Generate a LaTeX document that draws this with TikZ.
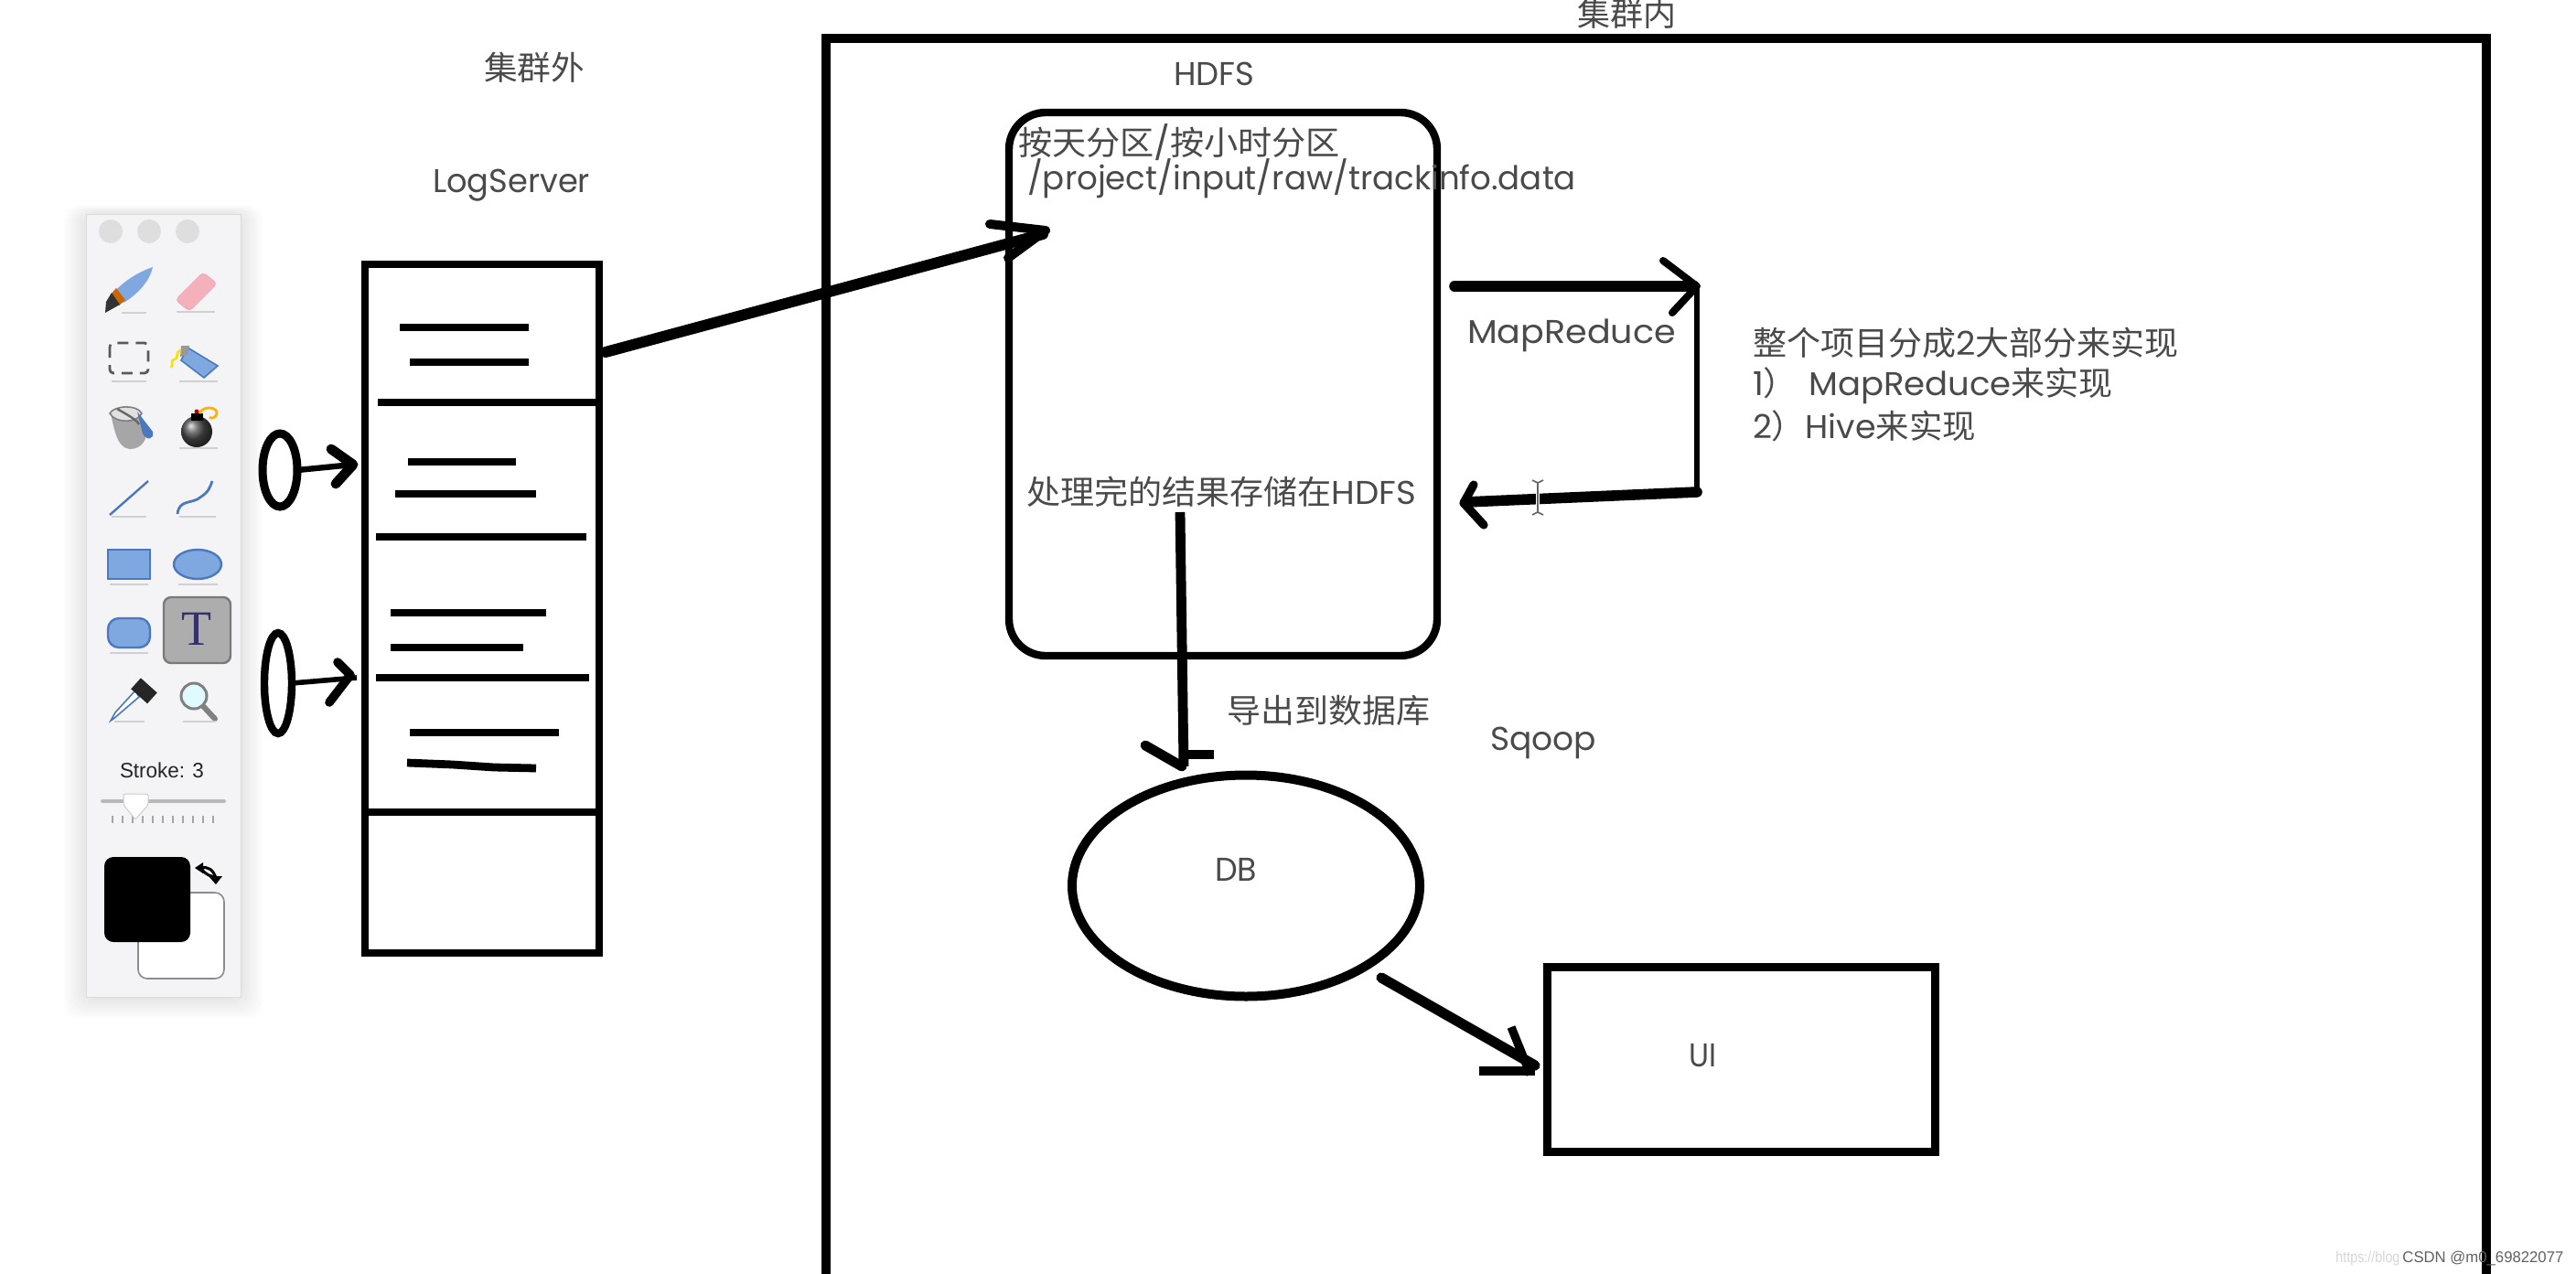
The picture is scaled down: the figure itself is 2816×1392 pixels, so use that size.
\documentclass[tikz,border=0pt]{standalone}
\usepackage{fontspec}
\usepackage{graphicx}
\setmainfont{Poppins}
\newfontfamily\cjk{Noto Sans CJK SC}
\newfontfamily\uif{Liberation Sans}
\newfontfamily\tfont{Liberation Serif}
\usetikzlibrary{shapes.geometric,arrows.meta}
\definecolor{txt}{HTML}{4A4A4A}
\definecolor{ublue}{HTML}{7FA8E0}
\definecolor{ublued}{HTML}{4C78BE}
\definecolor{ushadow}{HTML}{D0D0D2}
\definecolor{upanel}{HTML}{F4F4F7}
\newcommand\tw[2]{\resizebox{#1pt}{\height}{#2}}
\tikzset{
  x=0.5pt,y=-0.5pt,
  lab/.style={text=txt,inner sep=0pt,outer sep=0pt,font=\fontsize{18}{20}\selectfont},
  labw/.style={lab,anchor=base west},
  boxn/.style={draw=black,rectangle,inner sep=0pt,outer sep=0pt,line width=4.3pt},
  elln/.style={draw=black,ellipse,inner sep=0pt,outer sep=0pt,line width=4.5pt},
  hand/.style={draw=black,line width=#1,line cap=round,line join=round},
  hand/.default=4.5pt,
  rule/.style={draw=black,line width=4.4pt},
  ico/.style={draw=ublued,fill=ublue,line width=1.2pt},
  shl/.style={draw=ushadow,line width=1pt},
}
\begin{document}
\begin{tikzpicture}
\useasboundingbox (0,0) rectangle (2816,1392);
\fill[white] (0,0) rectangle (2816,1392);
\clip (0,0) rectangle (2816,1392);

% ---------- outer cluster frame
\draw[black,line width=4.6pt,line join=miter] (903,1400) -- (903,42) -- (2718,42) -- (2718,1400);

% ---------- toolbar
\foreach \e in {24,21,18,15,12,9,6,3}{
  \fill[black,opacity=.012,rounded corners=8pt] (94-\e,234-\e*0.4) rectangle (263+\e,1090+\e);
}
\fill[upanel,draw=black!14,line width=.5pt] (94,234) rectangle (263,1090);
\foreach \cx in {121,163,205}{\fill[black!13] (\cx,253) circle[radius=13];}
% brush
\fill[ublue] (167,292) .. controls (163,310) and (147,324) .. (135,331) -- (126,318) .. controls (138,305) and (155,296) .. (167,292) -- cycle;
\fill[orange!80!black] (127,315) -- (137,328) -- (130,334) -- (121,322) -- cycle;
\fill[black!80] (122,320) -- (131,333) -- (115,342) -- (116,330) -- cycle;
\draw[shl] (133,342) -- (160,342);
% eraser
\fill[pink!75!purple!70,draw=pink!60!purple!60,line width=.6pt,rounded corners=2pt] (192,328) -- (222,298) -- (237,310) -- (207,340) -- cycle;
\draw[shl] (193,341) -- (235,341);
% marquee
\draw[black!65,line width=1.4pt,dash pattern=on 6pt off 4pt,rounded corners=2pt] (120,375) rectangle (162,408);
\draw[shl] (122,417) -- (160,417);
% spray can
\fill[ublue,draw=ublued,line width=.8pt] (205,380) -- (238,400) -- (223,413) -- (198,394) -- cycle;
\fill[black!40] (198,378) -- (207,378) -- (205,388) -- (197,390) -- cycle;
\draw[yellow!80!orange,line width=1.3pt] (198,383) .. controls (190,385) and (197,392) .. (190,393) .. controls (186,395) and (190,398) .. (187,402);
\draw[shl] (196,417) -- (238,417);
% bucket
\fill[black!35] (121,452) .. controls (125,470) and (128,490) .. (142,491) .. controls (155,491) and (162,480) .. (160,468) -- (152,450) -- cycle;
\fill[black!12,draw=black!50,line width=.8pt] (120,452) .. controls (125,443) and (150,442) .. (155,452) .. controls (150,463) and (126,463) .. (120,452) -- cycle;
\draw[black!60,line width=1.2pt] (128,447) .. controls (140,454) and (148,458) .. (152,464);
\fill[ublued] (150,450) -- (167,472) .. controls (169,481) and (160,482) .. (156,474) -- cycle;
% bomb
\shade[ball color=black!70] (215,472) circle[radius=17];
\fill[black] (209,452) rectangle (222,460);
\draw[orange!60!yellow,line width=1.4pt] (218,452) .. controls (222,443) and (238,445) .. (237,452) .. controls (236,458) and (230,458) .. (229,456);
\fill[red!70!black] (215,450) circle[radius=2.5];
\draw[shl] (196,490) -- (238,490);
% line and curve
\draw[ublued,line width=1.2pt] (120,563) -- (162,526);
\draw[shl] (122,565) -- (160,565);
\draw[ublued,line width=1.4pt] (194,562) .. controls (196,545) and (210,552) .. (220,543) .. controls (228,538) and (230,532) .. (232,526);
\draw[shl] (196,565) -- (236,565);
% shapes
\draw[ico] (118,601) rectangle (164,633);
\draw[ico] (216,617) ellipse[x radius=26,y radius=16];
\draw[shl] (120,639) -- (162,639);
\draw[shl] (195,639) -- (238,639);
\draw[ico,rounded corners=6pt] (118,676) rectangle (164,708);
\draw[shl] (120,714) -- (162,714);
% T button
\fill[black!32,draw=black!52,line width=1.2pt,rounded corners=4pt] (179,653) rectangle (252,725);
\node[name=ttool,inner sep=0pt,text=black!65!blue!60!gray,font=\tfont\fontsize{27}{29}\selectfont] at (215,688) {T};
% dropper
\fill[white,draw=ublued,line width=.8pt] (152,762) -- (124,786) -- (121,788) -- (126,779) -- (148,755) -- cycle;
\fill[black!85,rotate around={-42:(156,754)}] (146,746) rectangle (170,762);
\draw[shl] (125,789) -- (158,789);
% magnifier
\draw[black!50,line width=3pt,line cap=round] (222,772) -- (235,786);
\fill[blue!12!cyan!12!white,draw=black!50,line width=1.5pt] (212,761) circle[radius=14];
\draw[shl] (200,789) -- (236,789);
% stroke
\node[name=strokel,inner sep=0pt,anchor=base,text=black!85,font=\uif\fontsize{11.5}{13}\selectfont] at (177,850) {\tw{46}{Stroke: 3}};
\draw[black!28,line width=2pt,line cap=round] (112,876) -- (245,876);
\foreach \i in {0,...,10}{\draw[black!35,line width=1pt] (123+\i*11,892) -- (123+\i*11,900);}
\fill[white,draw=black!20,line width=.5pt,rounded corners=1pt] (135,868) -- (162,868) -- (162,880) -- (148,896) -- (135,880) -- cycle;
% colours
\fill[white,draw=black!45,line width=.8pt,rounded corners=5pt] (151,976) rectangle (245,1070);
\fill[black,rounded corners=5pt] (114,937) rectangle (208,1030);
\draw[black,line width=1.5pt] (219,949) .. controls (228,947) and (233,951) .. (236,960);
\fill[black] (213,949) -- (222,943) -- (222,955) -- cycle;
\fill[black] (228,958) -- (243,958) -- (236,967) -- cycle;
\draw[black,line width=1.5pt] (221,951) .. controls (226,957) and (230,958) .. (236,959);

% ---------- log server
\node[boxn,minimum width=128pt,minimum height=376.5pt,name=logbox] at (527,665.5) {};
\foreach \xa/\xb/\yy in {437/578/358,448/578/396,413/655/440,446/564/505,432/586/540,411/641/587,427/597/670,427/572/708,411/644/741,448/611/801,403/651/888}{
  \draw[rule] (\xa,\yy) -- (\xb,\yy);
}
\draw[hand=4.4pt,line cap=butt] (445,834) -- (495,836) -- (540,839) -- (586,840);

% producers
\node[elln,minimum width=19pt,minimum height=40pt,name=prodA] at (306,514) {};
\node[elln,minimum width=15pt,minimum height=55pt,line width=4.2pt,name=prodB] at (304,747) {};
\coordinate (tipA) at (386,508);
\coordinate (tipB) at (390,741);
\draw[hand=3.2pt,line cap=butt] (prodA.east) -- (tipA);
\draw[hand=5.4pt] (362,491) -- (tipA) -- (367,529);
\draw[hand=2.8pt,line cap=butt] (prodB.east) -- (tipB);
\draw[hand=4.8pt] (369,724) -- (383,738) -- (360,768);

% ---------- HDFS
\node[boxn,rounded corners=20pt,minimum width=234pt,minimum height=297pt,line width=4.2pt,name=hdfs] at (1337,420) {};
\coordinate (bigA) at (662,385);
\coordinate (bigB) at (1140,256);
\draw[hand=6pt] (bigA) -- (bigB);
\draw[hand=5pt] (1082,245) -- (1143,252) -- (1102,282);

% MapReduce loop
\coordinate (mrA) at (1590,313);
\coordinate (mrB) at (1852,313);
\coordinate (mrC) at (1855,538);
\coordinate (mrD) at (1602,549);
\draw[hand=5.8pt] (mrA) -- (mrB);
\draw[hand=4pt] (1818,285) -- (1855,313) -- (1828,342);
\draw[hand=3.4pt,line cap=butt] (1855,313) -- (mrC);
\draw[hand=5.8pt] (mrC) -- (mrD);
\draw[hand=4.6pt] (1611,530) -- (1600,550) -- (1622,574);
% cursor
\draw[white,line width=2pt] (1681,526) -- (1681,562);
\draw[black!60,line width=.8pt] (1675,525) -- (1681,528) -- (1687,525) (1681,528) -- (1681,560) (1675,563) -- (1681,560) -- (1687,563);

% ---------- DB
\node[elln,minimum width=190pt,minimum height=121pt,line width=5pt,name=db] at (1362,968.5) {};
\coordinate (exA) at (1290,560);
\coordinate (exB) at (1294,838);
\draw[hand=5.4pt,line cap=butt] (exA) -- (exB);
\draw[hand=5.4pt] (1252,815) -- (1292,838);
\draw[hand=5pt,line cap=butt] (1292,825) -- (1327,825);

% ---------- UI
\node[boxn,minimum width=212pt,minimum height=101pt,line width=4.5pt,name=ui] at (1903,1158) {};
\coordinate (uiA) at (1510,1069);
\coordinate (uiB) at (1678,1165);
\draw[hand=5.6pt] (uiA) -- (uiB);
\draw[hand=4.6pt,line cap=butt] (1652,1123) -- (1673,1175);
\draw[hand=4.8pt,line cap=butt] (1617,1171) -- (1678,1171);

% ---------- labels
\node[labw,name=t1] at (529,87) {\tw{55}{\cjk 集群外}};
\node[labw,name=t2] at (473,210) {\tw{86}{LogServer}};
\node[labw,name=t3] at (1724,28) {\tw{54}{\cjk 集群内}};
\node[labw,name=t4] at (1283,93) {\tw{44}{HDFS}};
\node[labw,name=t5] at (1113,169) {\tw{176}{{\cjk 按天分区}/{\cjk 按小时分区}}};
\node[labw,name=t6] at (1123,207) {\tw{300}{/project/input/raw/trackinfo.data}};
\node[labw,name=t7] at (1604,375) {\tw{114}{MapReduce}};
\node[labw,name=t8] at (1916,388) {\tw{233}{{\cjk 整个项目分成}2{\cjk 大部分来实现}}};
\node[labw,name=t9] at (1916,432) {\tw{197}{1{\cjk ）}\kern6pt MapReduce{\cjk 来实现}}};
\node[labw,name=t10] at (1916,479) {\tw{122}{2{\cjk ）}Hive{\cjk 来实现}}};
\node[labw,name=t11] at (1122,551) {\tw{213}{{\cjk 处理完的结果存储在}HDFS}};
\node[labw,name=t12] at (1341,790) {\tw{111}{\cjk 导出到数据库}};
\node[labw,name=t13] at (1629,820) {\tw{58}{Sqoop}};
\node[labw,name=t14] at (1328,963) {\tw{23}{DB}};
\node[labw,name=t15] at (1846,1166) {\tw{15}{UI}};

% ---------- watermark
\node[anchor=base west,inner sep=0pt,text=black!16,font=\uif\fontsize{8.5}{10}\selectfont,name=wm1] at (2553,1380) {\tw{35}{https://blog}};
\node[anchor=base west,inner sep=0pt,text=black!62,font=\uif\fontsize{8.5}{10}\selectfont,name=wm2] at (2626,1380) {\tw{88}{CSDN @m0\_69822077}};
\end{tikzpicture}
\end{document}
